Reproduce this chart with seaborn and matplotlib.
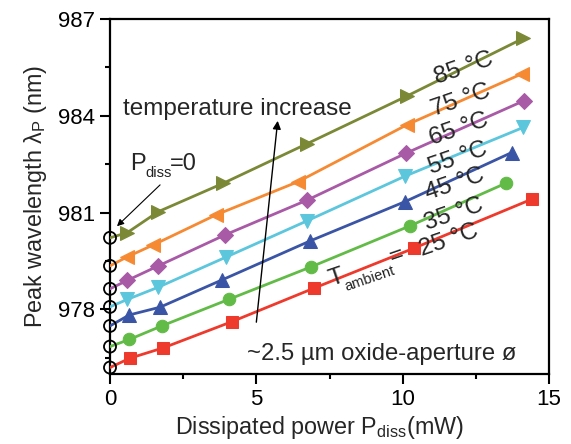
import matplotlib
matplotlib.use("Agg")
import matplotlib.pyplot as plt
import seaborn as sns
import numpy as np
import pandas as pd
from matplotlib.ticker import MultipleLocator, FixedLocator

sns.set_theme(style="ticks")
plt.rcParams['font.family'] = ['Liberation Sans', 'DejaVu Sans']
plt.rcParams['mathtext.fontset'] = 'custom'
plt.rcParams['mathtext.rm'] = 'Liberation Sans'
plt.rcParams['mathtext.it'] = 'Liberation Sans'

# ---- data ----
temperatures = ["25 °C", "35 °C", "45 °C", "55 °C", "65 °C", "75 °C", "85 °C"]
y_at_zero = [976.20, 976.85, 977.49, 978.08, 978.64, 979.35, 980.22]

p_25 = [0.68, 1.82, 4.16, 6.97, 10.39, 14.42]
w_25 = [976.49, 976.81, 977.62, 978.66, 979.90, 981.42]
p_35 = [0.66, 1.77, 4.08, 6.87, 10.25, 13.52]
w_35 = [977.07, 977.49, 978.32, 979.32, 980.59, 981.91]
p_45 = [0.66, 1.71, 3.84, 6.83, 10.08, 13.72]
w_45 = [977.83, 978.07, 978.92, 980.12, 981.34, 982.86]
p_55 = [0.59, 1.65, 3.96, 6.72, 10.08, 14.12]
w_55 = [978.31, 978.69, 979.62, 980.74, 982.13, 983.64]
p_65 = [0.59, 1.65, 3.93, 6.74, 10.11, 14.15]
w_65 = [978.90, 979.35, 980.31, 981.39, 982.84, 984.47]
p_75 = [0.59, 1.48, 3.62, 6.43, 10.14, 14.07]
w_75 = [979.63, 980.00, 980.93, 981.96, 983.72, 985.30]
p_85 = [0.59, 1.65, 3.87, 6.72, 10.14, 14.12]
w_85 = [980.38, 981.03, 981.91, 983.13, 984.61, 986.40]

powers = [p_25, p_35, p_45, p_55, p_65, p_75, p_85]
wavelengths = [w_25, w_35, w_45, w_55, w_65, w_75, w_85]

colors = ['#ee3a2c', '#62bb47', '#3a55a5', '#5cc6dc', '#a85aa6', '#f68a33', '#7b8835']
markers = ['s', 'o', '^', 'v', 'D', '<', '>']
msizes = [8, 9, 9.5, 9.5, 8, 9.5, 9.5]

label_x = [11.58, 11.75, 11.79, 11.89, 11.92, 11.99, 12.09]
label_y = [980.15, 980.93, 981.89, 982.69, 983.59, 984.49, 985.48]

xticks = [0, 5, 10, 15]
yticks = [978, 981, 984, 987]

# ---- figure ----
fig = plt.figure(figsize=(5.71, 4.44), dpi=100)
ax = fig.add_axes([110/571, 1-374/444, (549-110)/571, (374-19)/444])

for i in range(len(temperatures)):
    xs = [0.0] + powers[i]
    ys = [y_at_zero[i]] + wavelengths[i]
    df = pd.DataFrame({"P": xs, "W": ys})
    sns.lineplot(data=df, x="P", y="W", ax=ax, color=colors[i], lw=2.0,
                 marker=markers[i], markersize=msizes[i], markevery=list(range(1, len(xs))),
                 markeredgecolor=colors[i], markerfacecolor=colors[i],
                 estimator=None, sort=False, zorder=3)

zero_df = pd.DataFrame({"P": [0.0]*len(y_at_zero), "W": y_at_zero})
sns.scatterplot(data=zero_df, x="P", y="W", ax=ax, marker='o', s=75,
                facecolors='none', edgecolor='black', linewidth=1.3, zorder=5, clip_on=False)

ROT = 19
for i, t in enumerate(temperatures):
    ax.text(label_x[i], label_y[i], t, fontsize=17.5, rotation=ROT,
            ha='center', va='center', rotation_mode='anchor')

# T_ambient =
ax.text(7.57, 978.74, "T", fontsize=17.5, rotation=ROT, ha='left', va='baseline',
        rotation_mode='anchor')
ax.text(8.06, 978.57, "ambient", fontsize=10.5, rotation=ROT, ha='left', va='baseline',
        rotation_mode='anchor', color='#222222')
ax.text(9.81, 979.66, "=", fontsize=17.5, rotation=ROT, ha='center', va='center',
        rotation_mode='anchor')

ax.text(0.44, 984.03, "temperature increase", fontsize=17.5, ha='left', va='baseline')
ax.annotate("", xy=(5.74, 983.93), xytext=(4.99, 977.52),
            arrowprops=dict(arrowstyle='-|>', color='black', lw=1.0, mutation_scale=12))

ax.text(0.68, 982.32, "P", fontsize=17, ha='left', va='baseline')
ax.text(1.22, 982.10, "diss", fontsize=10.5, ha='left', va='baseline', color='#222222')
ax.text(2.05, 982.32, "=0", fontsize=17, ha='left', va='baseline')
ax.annotate("", xy=(0.17, 980.52), xytext=(1.78, 981.92),
            arrowprops=dict(arrowstyle='-|>', color='black', lw=0.8, mutation_scale=10))

ax.text(4.67, 976.62, "~2.5 µm oxide-aperture ø", fontsize=17.2, ha='left', va='center')

ax.set_xlim(0, 15)
ax.set_ylim(976, 987)
ax.set_xticks(xticks)
ax.set_yticks(yticks)
ax.xaxis.set_minor_locator(MultipleLocator(2.5))
ax.yaxis.set_minor_locator(FixedLocator([976.5, 979.5, 982.5, 985.5]))
ax.tick_params(axis='both', which='major', direction='out', length=7, width=1.5,
               labelsize=16, color='black', labelcolor='black', pad=4)
ax.tick_params(axis='both', which='minor', direction='out', length=3.5, width=1.5, color='black')
ax.tick_params(top=False, right=False, which='both')
for s in ax.spines.values():
    s.set_visible(True)
    s.set_linewidth(1.6)
    s.set_color('black')

ax.set_xlabel(r"Dissipated power P$_{\mathregular{diss}}$(mW)", fontsize=16.8)
ax.xaxis.set_label_coords(0.478, -0.112)
ax.set_ylabel(r"Peak wavelength $\mathregular{\lambda}_{\mathregular{P}}$ (nm)", fontsize=16.8, labelpad=6)

fig.savefig("out.png", dpi=100)
